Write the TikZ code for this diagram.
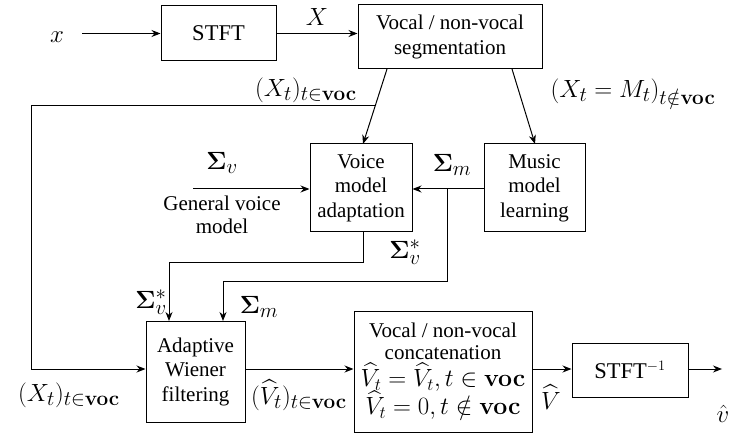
\documentclass[tikz,border=0pt]{standalone}
\usepackage{amsmath,amssymb}
\usepackage[no-math]{fontspec}
\setmainfont{Liberation Serif}
\DeclareMathSizes{26}{26}{21.5}{17}
\DeclareMathSizes{23}{23}{16.5}{13}
\usetikzlibrary{arrows.meta,calc}
\begin{document}
\begin{tikzpicture}[x=1pt,y=-1pt,
  box/.style={draw,line width=1pt,inner sep=0pt,align=center,font=\fontsize{21}{24.5}\selectfont\lineskiplimit-100pt\relax},
  conn/.style={line width=1pt,-{Stealth[length=9pt,width=7pt]}},
  lbl/.style={inner sep=0pt,font=\fontsize{26}{30}\selectfont}]
\useasboundingbox (0,0) rectangle (730,435);
\node[box,minimum width=115pt,minimum height=55pt] (stft) at (218.5,33.5) {\fontsize{22.5}{26}\selectfont STFT};
\node[box,minimum width=184pt,minimum height=64pt] (seg) at (450,37) {Vocal / non-vocal\\segmentation};
\node[box,minimum width=102pt,minimum height=88pt] (voice) at (361,188) {Voice\\model\\adaptation};
\node[box,minimum width=101pt,minimum height=88pt] (music) at (534.5,188) {Music\\model\\learning};
\node[box,minimum width=99pt,minimum height=101pt] (wien) at (195.5,371.5) {Adaptive\\Wiener\\filtering};
\node[box,minimum width=178pt,minimum height=121pt] (conc) at (443,371.5) {Vocal / non-vocal\\[-3pt]concatenation\\[2.5pt]
  {\fontsize{23}{24.5}\selectfont$\widehat{V}_t=\widehat{V}_t, t\in\mathbf{voc}$}\\[4pt] {\fontsize{23}{24.5}\selectfont$\widehat{V}_t=0, t\notin\mathbf{voc}$}};
\node[box,minimum width=116pt,minimum height=54pt] (istft) at (630,370) {\fontsize{22.5}{26}\selectfont STFT$^{-1}$};

\coordinate (xin) at (82,33.5);
\coordinate (segL) at (387,69);
\coordinate (voiceT) at (363,144);
\coordinate (segR) at (512,69);
\coordinate (musicT) at (535,144);
\coordinate (jx) at ($(segL)!0.493!(voiceT)$);
\coordinate (c1) at (31,106);
\coordinate (c2) at (31,369);
\coordinate (gv) at (193,189);
\coordinate (jm) at (447,189);
\coordinate (m1) at (447,282);
\coordinate (m2) at (223,282);
\coordinate (mT) at (223,321);
\coordinate (v0) at (363,232);
\coordinate (v1) at (363,263);
\coordinate (v2) at (169,263);
\coordinate (vT) at (169,321);
\coordinate (out) at (722,369);

\draw[conn] (xin) -- (stft.west);
\draw[conn] (stft.east) -- (stft.east -| seg.west);
\draw[conn] (segL) -- (voiceT);
\draw[conn] (segR) -- (musicT);
\draw[conn] (jx) -- (jx -| c1) -- (c2) -- (c2 -| wien.west);
\draw[conn] (gv) -- (gv -| voice.west);
\draw[conn] (jm -| music.west) -- (jm -| voice.east);
\draw[conn] (jm) -- (m1) -- (m2) -- (mT);
\draw[conn] (v0) -- (v1) -- (v2) -- (vT);
\draw[conn] (wien.east |- c2) -- (c2 -| conc.west);
\draw[conn] (conc.east |- out) -- (out -| istft.west);
\draw[conn] (istft.east |- out) -- (out);

\node[lbl] (lx) at (57,37) {$x$};
\node[lbl] (lX) at (317,17) {$X$};
\node[lbl] (lxv) at (306,90) {$(X_t)_{t\in\mathbf{voc}}$};
\node[lbl] (lxm) at (633,92) {$(X_t=M_t)_{t\notin\mathbf{voc}}$};
\node[lbl] (lsv) at (222,163) {$\boldsymbol{\Sigma}_v$};
\node[inner sep=0pt,align=center,font=\fontsize{21}{23}\selectfont] (lgv) at (222,215) {General voice\\model};
\node[lbl] (lsm) at (452,165) {$\boldsymbol{\Sigma}_m$};
\node[lbl] (lsv2) at (405,252) {$\boldsymbol{\Sigma}_v^*$};
\node[lbl] (lsv3) at (151,302) {$\boldsymbol{\Sigma}_v^*$};
\node[lbl] (lsm2) at (259,307) {$\boldsymbol{\Sigma}_m$};
\node[lbl] (lxv2) at (69,395) {$(X_t)_{t\in\mathbf{voc}}$};
\node[lbl] (lvh) at (299,395) {$(\widehat{V}_t)_{t\in\mathbf{voc}}$};
\node[lbl] (lVh) at (551,397) {$\widehat{V}$};
\node[lbl] (lvv) at (723,414) {$\hat{v}$};
\end{tikzpicture}
\end{document}
